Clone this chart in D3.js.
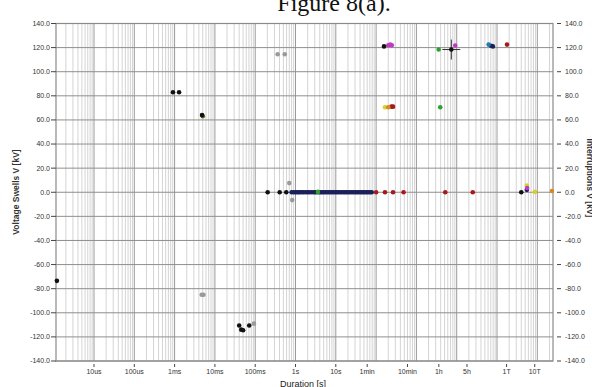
<!DOCTYPE html>
<html>
<head>
<meta charset="utf-8">
<script src="https://cdn.jsdelivr.net/npm/d3@7"></script>
<style>
  body { margin: 0; background: #fff; }
  svg { display: block; }
  text { font-family: "Liberation Sans", Arial, sans-serif; }
</style>
</head>
<body>
<svg id="chart" width="592" height="387"></svg>
<script>
// y axis ticks (kV)
const yTicks = [140, 120, 100, 80, 60, 40, 20, 0, -20, -40, -60, -80, -100, -120, -140];

// x axis tick labels and their durations in seconds
const xTickLabels = ["10us", "100us", "1ms", "10ms", "100ms", "1s", "10s", "1min", "10min", "1h", "5h", "1T", "10T"];
const xTickValues = [1e-5, 1e-4, 1e-3, 1e-2, 0.1, 1, 10, 60, 600, 3600, 18000, 172800, 864000];

// events: [duration s, voltage kV]
const blackPts = [[1.2e-6, -73.5], [9.1e-4, 83], [1.29e-3, 83], [4.8e-3, 64], [0.040, -110.5], [0.071, -110.5],
                  [0.045, -114], [0.050, -114.5], [0.204, 0], [0.405, 0], [0.59, 0], [157, 121], [7350, 118.4], [400000, 0]];
const olivePts = [[5.0e-3, 63]];
const grayPts = [[4.7e-3, -85], [5.2e-3, -85], [0.36, 114.5], [0.54, 114.5], [0.093, -109], [0.70, 7.6], [0.83, -6.5]];
const navyPts = [[0.8, 0], [0.9, 0], [1.0, 0], [1.1, 0], [1.2, 0], [1.3, 0], [1.45, 0], [1.6, 0], [1.8, 0], [2.0, 0],
                 [2.2, 0], [2.5, 0], [2.8, 0], [3.1, 0], [3.4, 0], [3.8, 0], [4.2, 0], [4.6, 0], [5.0, 0], [5.5, 0],
                 [6.1, 0], [6.7, 0], [7.4, 0], [8.2, 0], [9.0, 0], [10, 0], [11, 0], [12.2, 0], [13.5, 0], [15, 0],
                 [16.5, 0], [18, 0], [20, 0], [22, 0], [24.5, 0], [27, 0], [30, 0], [33, 0], [36, 0], [40, 0],
                 [44, 0], [48, 0], [53, 0], [58, 0], [64, 0], [71, 0], [78, 0],
                 [71000, 121.5], [79000, 121], [550000, 2]];
const magentaPts = [[200, 122], [225, 122.5], [245, 122], [9200, 121.7], [560000, 3.5]];
const redPts = [[100, 0], [166, 0], [263, 0], [480, 0], [5200, 0], [25000, 0], [177000, 122.5], [240, 71], [263, 71]];
const greenPts = [[3570, 118.4], [3900, 70.5], [3.6, 0.3]];
const yellowPts = [[166, 70.5], [550000, 5.6], [870000, 0.3]];
const orangePts = [[200, 70.5], [2.3e6, 1]];
const tealPts = [[62000, 122.5]];

const series = [
  {pts: grayPts, color: "#9a9a9a"},
  {pts: navyPts, color: "#1b1f5a"},
  {pts: redPts, color: "#a51a1a"},
  {pts: greenPts, color: "#2fa12f"},
  {pts: yellowPts, color: "#d6d02a"},
  {pts: orangePts, color: "#d88a1e"},
  {pts: magentaPts, color: "#c23ac2"},
  {pts: tealPts, color: "#1f7ab0"},
  {pts: olivePts, color: "#5a6a1c"},
  {pts: blackPts, color: "#111111"}
];

const svg = d3.select("#chart");
const plotL = 56, plotR = 553, plotT = 23.5, plotB = 361;

const x = d3.scaleLog().domain([1.14e-6, 2.45e6]).range([plotL, plotR]);
const y = d3.scaleLinear().domain([-140, 140]).range([plotB, plotT]);

// title (cut off at top, as in the scan)
svg.append("text")
  .attr("x", 334).attr("y", 11)
  .attr("text-anchor", "middle")
  .style("font-family", "'Liberation Serif', 'Times New Roman', serif")
  .style("font-size", "24px")
  .attr("fill", "#111")
  .text("Figure 8(a).");

const grid = svg.append("g");

// minor vertical grid
let minor = [];
for (let e = -6; e <= 6; e++) {
  for (let m = 2; m <= 9; m++) {
    const v = m * Math.pow(10, e);
    if (v > x.domain()[0] && v < x.domain()[1]) minor.push(v);
  }
}
grid.selectAll(".minor")
  .data(minor)
  .join("line")
  .attr("x1", d => x(d)).attr("x2", d => x(d))
  .attr("y1", plotT).attr("y2", plotB)
  .attr("stroke", "#d4d4d4")
  .attr("stroke-width", 1);

// decade lines
const decades = d3.range(-5, 7).map(e => Math.pow(10, e));
grid.selectAll(".major")
  .data(decades)
  .join("line")
  .attr("x1", d => x(d)).attr("x2", d => x(d))
  .attr("y1", plotT).attr("y2", plotB)
  .attr("stroke", "#9a9a9a")
  .attr("stroke-width", 1);

// horizontal grid
grid.selectAll(".hgrid")
  .data(yTicks)
  .join("line")
  .attr("x1", plotL).attr("x2", plotR)
  .attr("y1", d => y(d)).attr("y2", d => y(d))
  .attr("stroke", "#8f8f8f")
  .attr("stroke-width", 1);

// frame
svg.append("rect")
  .attr("x", plotL).attr("y", plotT)
  .attr("width", plotR - plotL).attr("height", plotB - plotT)
  .attr("fill", "none")
  .attr("stroke", "#8a8a8a")
  .attr("stroke-width", 1.2);

// left axis
const yAxisL = svg.append("g");
yAxisL.selectAll("line")
  .data(yTicks).join("line")
  .attr("x1", plotL - 5).attr("x2", plotL)
  .attr("y1", d => y(d)).attr("y2", d => y(d))
  .attr("stroke", "#444");
yAxisL.selectAll("text")
  .data(yTicks).join("text")
  .attr("x", plotL - 6).attr("y", d => y(d))
  .attr("dy", "0.35em")
  .attr("text-anchor", "end")
  .style("font-size", "7px")
  .attr("fill", "#333")
  .text(d => d.toFixed(1));

// right axis
const yAxisR = svg.append("g");
yAxisR.selectAll("line")
  .data(yTicks).join("line")
  .attr("x1", plotR + 4).attr("x2", plotR + 8)
  .attr("y1", d => y(d)).attr("y2", d => y(d))
  .attr("stroke", "#444");
yAxisR.selectAll("text")
  .data(yTicks).join("text")
  .attr("x", plotR + 12).attr("y", d => y(d))
  .attr("dy", "0.35em")
  .style("font-size", "7px")
  .attr("fill", "#333")
  .text(d => d.toFixed(1));

// bottom axis
const xAxis = svg.append("g");
xAxis.selectAll("line")
  .data(xTickValues).join("line")
  .attr("x1", d => x(d)).attr("x2", d => x(d))
  .attr("y1", plotB + 3).attr("y2", plotB + 6)
  .attr("stroke", "#444");
xAxis.selectAll("text")
  .data(xTickValues).join("text")
  .attr("x", d => x(d)).attr("y", plotB + 11)
  .attr("dy", "0.35em")
  .attr("text-anchor", "middle")
  .style("font-size", "7px")
  .attr("fill", "#333")
  .text((d, i) => xTickLabels[i]);

// axis titles
svg.append("text")
  .attr("x", 303).attr("y", 387)
  .attr("text-anchor", "middle")
  .style("font-size", "9px")
  .attr("fill", "#222")
  .text("Duration [s]");

svg.append("text")
  .attr("transform", "translate(19,192) rotate(-90)")
  .attr("text-anchor", "middle")
  .style("font-size", "8.5px")
  .style("font-weight", "bold")
  .attr("fill", "#333")
  .text("Voltage Swells V [kV]");

svg.append("text")
  .attr("transform", "translate(587,178) rotate(90)")
  .attr("text-anchor", "middle")
  .style("font-size", "8.5px")
  .style("font-weight", "bold")
  .attr("fill", "#333")
  .text("Interruptions V [kV]");

// error cross on the black swell near 2h
const cross = svg.append("g");
const cx = x(blackPts[12][0]), cy = y(blackPts[12][1]);
cross.append("line").attr("x1", cx - 9).attr("x2", cx + 9).attr("y1", cy).attr("y2", cy)
  .attr("stroke", "#333").attr("stroke-width", 1);
cross.append("line").attr("x1", cx).attr("x2", cx).attr("y1", cy - 10).attr("y2", cy + 10)
  .attr("stroke", "#333").attr("stroke-width", 1);

// dots
const dots = svg.append("g");
series.forEach(s => {
  dots.append("g")
    .selectAll("circle")
    .data(s.pts)
    .join("circle")
    .attr("cx", d => x(d[0]))
    .attr("cy", d => y(d[1]))
    .attr("r", 2.3)
    .attr("fill", s.color);
});
</script>
</body>
</html>
